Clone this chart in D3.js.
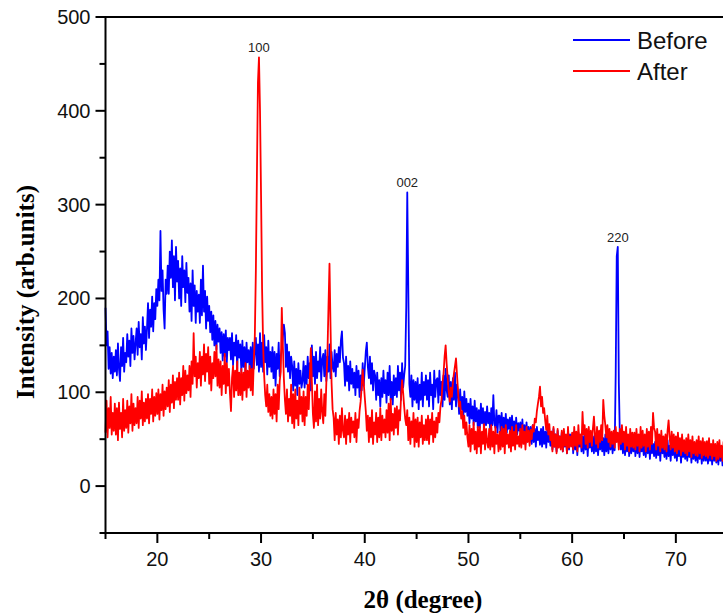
<!DOCTYPE html>
<html>
<head>
<meta charset="utf-8">
<script src="https://cdn.jsdelivr.net/npm/d3@7"></script>
<style>
  html, body { margin: 0; padding: 0; background: #fff; }
  svg { display: block; }
</style>
</head>
<body>
<script>
// 2theta sampled from 15 to 75 deg, every 0.1 deg (one row = one degree)
const thetaStart = 15;
const thetaStep = 0.1;

const before = [
  190,150,165,125,148,120,142,115,138,122, // 15
  145,118,152,125,112,148,128,158,122,142, // 16
  132,162,138,155,128,168,142,160,135,152, // 17
  168,140,175,148,162,135,180,152,170,145, // 18
  168,195,158,188,170,202,165,195,178,210, // 19
  192,220,198,272,208,230,188,168,220,205, // 20
  235,205,250,222,262,212,245,198,255,218, // 21
  240,200,232,192,245,212,230,196,238,206, // 22
  222,186,216,176,230,192,214,174,208,186, // 23
  204,174,220,182,235,186,208,168,202,176, // 24
  192,164,186,156,182,150,176,146,172,154, // 25
  168,142,164,134,162,138,166,132,158,145, // 26
  158,135,163,129,153,139,161,125,155,137, // 27
  151,122,155,127,148,119,153,132,145,125, // 28
  148,117,153,125,143,158,129,151,122,163, // 29
  127,153,122,161,132,148,119,155,127,143, // 30
  122,148,115,143,107,141,125,153,117,138, // 31
  145,158,172,163,127,151,122,143,115,138, // 32
  128,102,133,107,125,97,131,109,123,105,  // 33
  112,133,105,128,109,138,115,131,102,150, // 34
  117,138,109,143,115,133,122,148,112,135, // 35
  141,117,145,112,138,122,151,115,143,127, // 36
  122,145,117,141,127,148,132,155,165,137, // 37
  131,107,138,112,128,102,133,109,125,105, // 38
  121,97,128,105,123,95,118,102,131,107,   // 39
  125,143,153,127,115,138,109,131,102,123, // 40
  118,92,121,97,113,85,115,95,123,99,      // 41
  113,89,121,97,128,92,111,87,118,97,      // 42
  115,95,128,102,121,92,131,105,118,128,   // 43
  190,313,210,109,95,118,85,113,92,111,    // 44
  89,115,82,108,92,121,85,111,97,118,      // 45
  92,113,85,121,97,108,82,123,95,113,      // 46
  115,89,123,97,111,85,118,92,125,102,     // 47
  95,118,87,111,82,115,92,121,85,108,      // 48
  98,77,103,82,95,72,101,79,93,75,         // 49
  88,67,93,72,85,65,91,69,83,62,           // 50
  81,62,88,67,83,59,79,65,85,67,           // 51
  78,59,83,65,97,67,62,81,57,75,           // 52
  75,55,78,59,73,52,77,57,71,61,           // 53
  73,52,75,57,69,49,73,55,67,59,           // 54
  68,49,71,52,65,45,68,51,63,47,           // 55
  63,45,65,47,61,42,63,49,58,44,           // 56
  61,42,63,45,58,41,61,47,55,43,           // 57
  58,39,61,42,55,37,59,45,53,41,           // 58
  57,37,58,42,53,35,59,39,55,43,           // 59
  55,35,58,39,51,33,57,42,53,37,           // 60
  53,35,57,39,51,32,55,41,53,37,           // 61
  53,35,55,37,51,33,55,39,49,37,           // 62
  51,33,55,37,53,35,51,39,53,35,           // 63
  48,38,120,245,255,110,53,39,51,35,       // 64
  51,33,53,37,49,32,53,35,48,37,           // 65
  49,32,53,35,48,31,51,37,47,33,           // 66
  48,31,51,35,47,29,49,35,45,32,           // 67
  47,30,49,33,45,27,48,35,43,31,           // 68
  45,29,49,32,43,27,47,33,43,30,           // 69
  45,27,48,32,43,25,47,31,41,29,           // 70
  45,27,47,31,43,25,45,29,41,27,           // 71
  43,25,45,29,41,24,43,27,39,27,           // 72
  43,24,45,27,41,23,43,27,39,25,           // 73
  41,23,43,27,39,22,41,15,38,25,           // 74
  28                                       // 75
];

const after = [
  57,91,52,83,62,95,55,78,59,88,           // 15
  55,83,49,89,61,78,52,93,59,81,           // 16
  62,91,57,85,67,98,59,88,65,83,           // 17
  67,95,62,91,72,101,65,89,69,93,          // 18
  72,98,67,93,77,103,69,95,75,99,          // 19
  77,103,71,98,81,108,75,101,82,105,       // 20
  85,113,79,108,89,118,83,111,92,115,      // 21
  92,121,87,115,97,128,91,123,99,118,      // 22
  102,128,95,133,109,163,117,138,105,131,  // 23
  115,143,107,138,119,151,112,141,122,148, // 24
  109,138,102,131,115,143,117,150,107,135, // 25
  105,133,97,128,109,141,99,131,107,125,   // 26
  99,80,115,128,95,123,102,133,97,121,     // 27
  97,125,92,121,102,131,95,123,105,128,    // 28
  102,125,97,133,160,230,330,430,457,400,  // 29
  310,210,150,118,97,85,108,79,98,75,      // 30
  95,72,103,77,98,69,108,82,112,122,       // 31
  190,150,115,92,77,103,69,93,75,108,      // 32
  67,98,62,103,72,91,65,105,77,95,         // 33
  69,101,65,95,75,108,82,117,147,112,      // 34
  77,62,101,69,108,65,93,72,103,79,        // 35
  67,98,75,112,140,190,237,170,110,82,     // 36
  73,49,78,55,71,45,75,52,83,59,           // 37
  52,75,45,71,55,78,47,73,57,69,           // 38
  52,78,47,71,62,80,90,105,124,110,        // 39
  95,80,59,75,47,73,52,81,45,68,           // 40
  55,78,47,73,52,83,49,75,57,71,           // 41
  52,81,57,88,49,93,59,77,55,83,           // 42
  62,85,55,81,70,95,113,100,85,72,         // 43
  65,81,49,73,45,69,52,78,42,71,           // 44
  47,73,42,68,52,75,45,65,49,71,           // 45
  49,75,45,71,55,78,47,69,52,73,           // 46
  57,78,68,85,92,110,120,138,150,130,      // 47
  115,100,90,105,95,110,120,128,136,118,   // 48
  100,85,90,72,80,62,75,55,68,52,          // 49
  42,65,37,61,45,68,39,58,35,63,           // 50
  42,63,35,58,45,66,39,61,47,41,           // 51
  61,39,65,42,58,35,63,45,55,37,           // 52
  58,39,63,42,61,35,65,45,55,41,           // 53
  59,37,63,43,58,39,65,45,53,42,           // 54
  61,41,65,45,58,39,63,47,59,43,           // 55
  60,50,65,58,72,68,80,88,95,106,          // 56
  85,95,78,83,70,60,75,55,66,49,           // 57
  58,37,63,42,55,35,61,41,53,39,           // 58
  59,37,61,43,55,35,63,41,53,42,           // 59
  57,39,63,43,58,37,65,45,55,41,           // 60
  79,55,65,45,61,41,63,47,59,43,           // 61
  61,74,55,45,63,41,59,47,65,49,           // 62
  92,75,65,52,65,47,61,42,58,45,           // 63
  59,41,63,47,57,39,61,45,65,47,           // 64
  58,39,63,43,55,37,61,42,57,41,           // 65
  57,39,61,43,55,37,63,41,59,43,           // 66
  55,37,61,42,58,39,63,45,78,62,           // 67
  58,39,61,43,55,37,59,41,53,39,           // 68
  55,37,59,70,53,39,58,41,55,37,           // 69
  53,35,57,39,51,33,55,37,49,35,           // 70
  51,33,55,37,49,31,53,35,47,33,           // 71
  49,32,53,35,48,30,51,33,47,32,           // 72
  48,30,51,33,45,29,49,32,45,27,           // 73
  47,29,49,31,43,27,47,29,41,22,           // 74
  25                                       // 75
];

const seriesNames = ['Before', 'After'];
const seriesColors = ['#0000ff', '#ff0000'];

const xTicks = [20, 30, 40, 50, 60, 70];
const yTicks = [0, 100, 200, 300, 400, 500];

const peakLabels = ['100', '002', '220'];
const peakTheta = [29.8, 44.1, 64.4];
const peakValue = [457, 313, 255];

const width = 723;
const height = 613;

const svg = d3.select('body')
  .append('svg')
    .attr('width', width)
    .attr('height', height);

const x = d3.scaleLinear().domain([15, 75]).range([105.5, 727.7]);
const y = d3.scaleLinear().domain([-50, 500]).range([533, 17]);

const toPoints = (arr) => arr.map((v, i) => [thetaStart + i * thetaStep, v]);

const line = d3.line()
  .x(d => x(d[0]))
  .y(d => y(d[1]));

const plot = svg.append('g');

[before, after].forEach((arr, k) => {
  plot.append('path')
    .datum(toPoints(arr))
    .attr('fill', 'none')
    .attr('stroke', seriesColors[k])
    .attr('stroke-width', 1.8)
    .attr('stroke-linejoin', 'round')
    .attr('d', line);
});

// peak annotations
svg.selectAll('text.peak')
  .data(peakLabels)
  .enter()
  .append('text')
    .attr('class', 'peak')
    .attr('x', (d, i) => x(peakTheta[i]))
    .attr('y', (d, i) => y(peakValue[i]) - 5)
    .attr('text-anchor', 'middle')
    .attr('font-family', 'Liberation Sans, Arial, sans-serif')
    .attr('font-size', 13)
    .attr('fill', '#222')
    .text(d => d);

// frame top line
svg.append('line')
  .attr('x1', x(15)).attr('x2', width + 5)
  .attr('y1', y(500)).attr('y2', y(500))
  .attr('stroke', '#000').attr('stroke-width', 2);

// x axis
const xAxis = svg.append('g').attr('transform', `translate(0,${y(-50)})`);
xAxis.append('line')
  .attr('x1', x(15) - 1).attr('x2', width + 5)
  .attr('stroke', '#000').attr('stroke-width', 2);
xAxis.selectAll('line.minor')
  .data(d3.range(15, 80, 5).filter(v => v % 10 !== 0))
  .enter().append('line')
    .attr('x1', d => x(d)).attr('x2', d => x(d))
    .attr('y1', 0).attr('y2', 6)
    .attr('stroke', '#000').attr('stroke-width', 2);
xAxis.selectAll('line.major')
  .data(xTicks)
  .enter().append('line')
    .attr('x1', d => x(d)).attr('x2', d => x(d))
    .attr('y1', 0).attr('y2', 10)
    .attr('stroke', '#000').attr('stroke-width', 2);
xAxis.selectAll('text')
  .data(xTicks)
  .enter().append('text')
    .attr('x', d => x(d))
    .attr('y', 33)
    .attr('text-anchor', 'middle')
    .attr('font-family', 'Liberation Sans, Arial, sans-serif')
    .attr('font-size', 20)
    .attr('fill', '#111')
    .text(d => d);

// y axis
const yAxis = svg.append('g').attr('transform', `translate(${x(15)},0)`);
yAxis.append('line')
  .attr('y1', y(-50) + 1).attr('y2', y(500) - 1)
  .attr('stroke', '#000').attr('stroke-width', 2);
yAxis.selectAll('line.minor')
  .data(d3.range(-50, 500, 100))
  .enter().append('line')
    .attr('y1', d => y(d)).attr('y2', d => y(d))
    .attr('x1', 0).attr('x2', -6)
    .attr('stroke', '#000').attr('stroke-width', 2);
yAxis.selectAll('line.major')
  .data(yTicks)
  .enter().append('line')
    .attr('y1', d => y(d)).attr('y2', d => y(d))
    .attr('x1', 0).attr('x2', -10)
    .attr('stroke', '#000').attr('stroke-width', 2);
yAxis.selectAll('text')
  .data(yTicks)
  .enter().append('text')
    .attr('x', -15)
    .attr('y', d => y(d))
    .attr('dy', '0.35em')
    .attr('text-anchor', 'end')
    .attr('font-family', 'Liberation Sans, Arial, sans-serif')
    .attr('font-size', 20)
    .attr('fill', '#111')
    .text(d => d);

// axis titles
svg.append('text')
  .attr('x', 423)
  .attr('y', 608)
  .attr('text-anchor', 'middle')
  .attr('font-family', 'Liberation Serif, Times New Roman, serif')
  .attr('font-weight', 'bold')
  .attr('font-size', 25)
  .text('2θ (degree)');

svg.append('text')
  .attr('transform', 'translate(34,292) rotate(-90)')
  .attr('text-anchor', 'middle')
  .attr('font-family', 'Liberation Serif, Times New Roman, serif')
  .attr('font-weight', 'bold')
  .attr('font-size', 25)
  .text('Intensity (arb.units)');

// legend
const legend = svg.append('g');
seriesNames.forEach((name, i) => {
  const ly = 40 + i * 31;
  legend.append('line')
    .attr('x1', 573).attr('x2', 630)
    .attr('y1', ly).attr('y2', ly)
    .attr('stroke', seriesColors[i]).attr('stroke-width', 2);
  legend.append('text')
    .attr('x', 637)
    .attr('y', ly)
    .attr('dy', '0.36em')
    .attr('font-family', 'Liberation Sans, Arial, sans-serif')
    .attr('font-size', 24)
    .attr('fill', '#111')
    .text(name);
});
</script>
</body>
</html>
